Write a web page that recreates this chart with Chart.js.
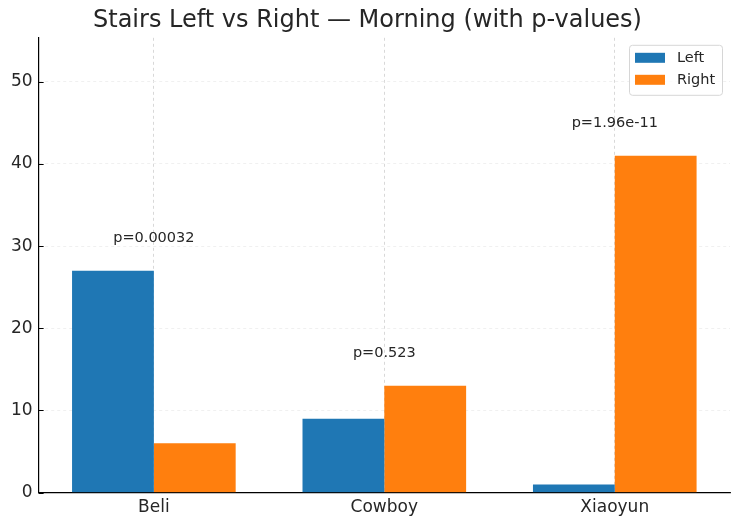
<!DOCTYPE html>
<html>
<head>
<meta charset="utf-8">
<script src="https://cdn.jsdelivr.net/npm/chart.js@4/dist/chart.umd.min.js"></script>
<style>
  html, body { margin: 0; padding: 0; background: #fff; }
  #wrap { width: 740px; height: 525px; }
</style>
</head>
<body>
<div id="wrap"><canvas id="c" width="740" height="525"></canvas></div>
<script>
const categories = ['Beli', 'Cowboy', 'Xiaoyun'];
const leftValues = [27, 9, 1];
const rightValues = [6, 13, 41];
const pLabels = ['p=0.00032', 'p=0.523', 'p=1.96e-11'];
const yTicks = [0, 10, 20, 30, 40, 50];

const FONT = '"DejaVu Sans", sans-serif';
const BLUE = '#1f77b4';
const ORANGE = '#ff7f0e';

// p-value text above each group, inward y ticks, and a boxed legend inside the plot
const annotations = {
  id: 'annotations',
  afterDatasetsDraw(chart) {
    const ctx = chart.ctx;
    const x = chart.scales.x, y = chart.scales.y;
    const area = chart.chartArea;
    ctx.save();

    // inward tick marks on the y axis
    ctx.strokeStyle = '#000';
    ctx.lineWidth = 1;
    yTicks.forEach(v => {
      const py = Math.round(y.getPixelForValue(v)) + 0.5;
      ctx.beginPath();
      ctx.moveTo(area.left, py);
      ctx.lineTo(area.left + 5, py);
      ctx.stroke();
    });

    ctx.font = '14.5px ' + FONT;
    ctx.fillStyle = '#262626';
    ctx.textAlign = 'center';
    ctx.textBaseline = 'middle';
    pLabels.forEach((t, i) => {
      const top = Math.max(leftValues[i], rightValues[i]) + 4;
      ctx.fillText(t, x.getPixelForValue(i), y.getPixelForValue(top));
    });

    // legend
    const bx = area.right - 101, by = area.top + 7, bw = 93, bh = 50;
    ctx.beginPath();
    ctx.roundRect(bx + 0.5, by + 0.5, bw, bh, 3);
    ctx.fillStyle = 'rgba(255,255,255,0.8)';
    ctx.fill();
    ctx.strokeStyle = '#d6d6d6';
    ctx.lineWidth = 1;
    ctx.stroke();
    ctx.textAlign = 'left';
    ctx.font = '14.5px ' + FONT;
    [['Left', BLUE], ['Right', ORANGE]].forEach(([lab, col], k) => {
      const ry = by + 13 + k * 22;
      ctx.fillStyle = col;
      ctx.fillRect(bx + 6, ry - 5, 30, 10);
      ctx.fillStyle = '#262626';
      ctx.fillText(lab, bx + 48, ry);
    });
    ctx.restore();
  }
};

new Chart(document.getElementById('c'), {
  type: 'bar',
  data: {
    labels: categories,
    datasets: [
      { label: 'Left', data: leftValues, backgroundColor: BLUE, barPercentage: 1, categoryPercentage: 0.71 },
      { label: 'Right', data: rightValues, backgroundColor: ORANGE, barPercentage: 1, categoryPercentage: 0.71 }
    ]
  },
  options: {
    responsive: false,
    animation: false,
    layout: { padding: { left: 5, right: 10, top: 0, bottom: 2 } },
    plugins: {
      legend: { display: false },
      tooltip: { enabled: false },
      title: {
        display: true,
        text: 'Stairs Left vs Right — Morning (with p-values)',
        color: '#262626',
        font: { family: FONT, size: 24, weight: 'normal' },
        padding: { top: 6, bottom: 3 }
      }
    },
    scales: {
      x: {
        offset: true,
        grid: {
          offset: false,
          color: '#cfcfcf',
          lineWidth: 0.8,
          drawTicks: false
        },
        border: { display: true, color: '#000', width: 1.2, dash: [3, 3] },
        ticks: { color: '#262626', font: { family: FONT, size: 17 }, padding: 5 }
      },
      y: {
        min: 0,
        max: 55.35,
        afterBuildTicks(scale) { scale.ticks = yTicks.map(v => ({ value: v })); },
        grid: {
          color: '#ececec',
          lineWidth: 0.8,
          drawTicks: false
        },
        border: { display: true, color: '#000', width: 1.2, dash: [3, 3] },
        ticks: { color: '#262626', font: { family: FONT, size: 17 }, padding: 6 }
      }
    }
  },
  plugins: [annotations]
});
</script>
</body>
</html>
